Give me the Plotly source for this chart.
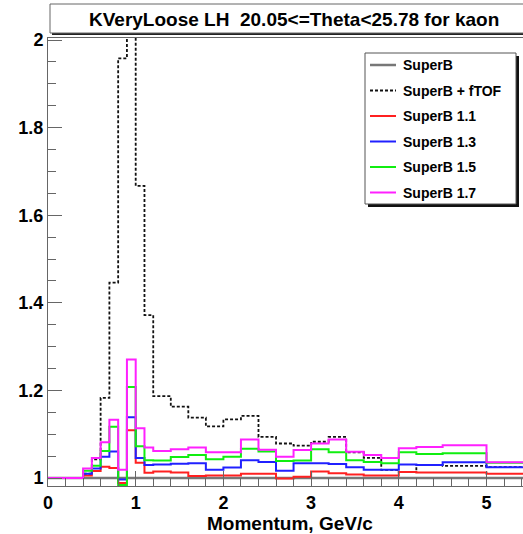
import plotly.graph_objects as go

# Momentum bin edges (GeV/c)
edges = [0.0, 0.2, 0.4, 0.5, 0.6, 0.7, 0.8, 0.9, 1.0, 1.1, 1.2, 1.4, 1.6, 1.8,
         2.0, 2.2, 2.4, 2.6, 2.8, 3.0, 3.2, 3.4, 3.6, 3.8, 4.0, 4.2, 4.5, 5.0, 5.5]

# Efficiency ratios per bin, one list per configuration
superb = [1.0, 1.0, 1.0, 1.0, 1.0, 1.0, 1.0, 1.0, 1.0, 1.0, 1.0, 1.0, 1.0, 1.0,
          1.0, 1.0, 1.0, 1.0, 1.0, 1.0, 1.0, 1.0, 1.0, 1.0, 1.0, 1.0, 1.0, 1.0]
superb_ftof = [1.0, 1.0, 1.010, 1.043, 1.183, 1.446, 1.958, 2.150, 1.667, 1.372,
               1.187, 1.163, 1.138, 1.118, 1.134, 1.142, 1.094, 1.079, 1.074, 1.083,
               1.094, 1.059, 1.046, 1.019, 1.014, 1.030, 1.028, 1.025]
superb_11 = [1.0, 1.0, 1.006, 1.016, 1.026, 1.023, 0.989, 1.109, 1.035, 1.012,
             1.015, 1.013, 1.005, 1.006, 1.006, 1.010, 1.010, 0.999, 1.003, 1.015,
             1.011, 1.008, 1.006, 1.006, 1.014, 1.013, 1.013, 1.010]
superb_13 = [1.0, 1.0, 1.010, 1.022, 1.049, 1.061, 0.997, 1.139, 1.046, 1.030,
             1.031, 1.033, 1.034, 1.019, 1.024, 1.041, 1.037, 1.017, 1.034, 1.034,
             1.032, 1.025, 1.019, 1.019, 1.031, 1.030, 1.036, 1.025]
superb_15 = [1.0, 1.0, 1.017, 1.028, 1.062, 1.117, 0.984, 1.208, 1.073, 1.041,
             1.040, 1.048, 1.053, 1.043, 1.049, 1.067, 1.061, 1.039, 1.040, 1.066,
             1.059, 1.041, 1.037, 1.034, 1.059, 1.055, 1.057, 1.035]
superb_17 = [1.0, 1.0, 1.022, 1.046, 1.082, 1.133, 1.019, 1.271, 1.114, 1.070,
             1.062, 1.066, 1.070, 1.059, 1.059, 1.088, 1.065, 1.049, 1.064, 1.079,
             1.088, 1.060, 1.053, 1.046, 1.068, 1.071, 1.075, 1.036]

labels = ["SuperB", "SuperB + fTOF", "SuperB 1.1", "SuperB 1.3", "SuperB 1.5", "SuperB 1.7"]
title_text = "KVeryLoose LH&nbsp; 20.05&lt;=Theta&lt;25.78 for kaon"
x_title = "Momentum, GeV/c"

series = [superb, superb_ftof, superb_11, superb_13, superb_15, superb_17]
styles = [
    dict(color="#777777", width=2.5, dash="solid"),
    dict(color="#111111", width=1.8, dash="3px,2px"),
    dict(color="#ff2020", width=2, dash="solid"),
    dict(color="#2020ff", width=2, dash="solid"),
    dict(color="#10ee10", width=2, dash="solid"),
    dict(color="#ff20ff", width=2, dash="solid"),
]

W, H = 523, 534
ML, MR, MT, MB = 48, 0, 38, 48
X_PER_GEV = 87.7
x_max = (W - ML - MR) / X_PER_GEV


def px_x(px):
    return (px - ML) / (W - ML - MR)


def px_y(py):
    return (H - MB - py) / (H - MT - MB)


font_family = "Liberation Sans, Arial, Helvetica, sans-serif"

fig = go.Figure()
for vals, st, name in zip(series, styles, labels):
    fig.add_trace(go.Scatter(
        x=edges, y=vals + [vals[-1]], mode="lines", name=name,
        line=dict(shape="hv", color=st["color"], width=st["width"], dash=st["dash"]),
        showlegend=False, hoverinfo="skip",
    ))

shapes = []
annotations = []

# title box with shadow
shapes.append(dict(type="rect", xref="paper", yref="paper",
                   x0=px_x(52), x1=px_x(540), y0=px_y(35), y1=px_y(6),
                   fillcolor="#222222", line=dict(width=0), layer="above"))
shapes.append(dict(type="rect", xref="paper", yref="paper",
                   x0=px_x(50), x1=px_x(540), y0=px_y(33), y1=px_y(4),
                   fillcolor="white", line=dict(color="#666666", width=1), layer="above"))
annotations.append(dict(text=title_text, xref="paper", yref="paper",
                        x=px_x(294), y=px_y(19), xanchor="center", yanchor="middle",
                        showarrow=False,
                        font=dict(family=font_family, size=19, color="black", weight="bold")))

# legend box with shadow
shapes.append(dict(type="rect", xref="paper", yref="paper",
                   x0=px_x(368), x1=px_x(519), y0=px_y(207), y1=px_y(56),
                   fillcolor="#111111", line=dict(width=0), layer="above"))
shapes.append(dict(type="rect", xref="paper", yref="paper",
                   x0=px_x(365), x1=px_x(516), y0=px_y(204), y1=px_y(53),
                   fillcolor="white", line=dict(color="#555555", width=1), layer="above"))
rows = [65, 90.5, 116, 141.5, 167, 192.5]
for ry, st, name in zip(rows, styles, labels):
    shapes.append(dict(type="line", xref="paper", yref="paper",
                       x0=px_x(370), x1=px_x(396), y0=px_y(ry), y1=px_y(ry),
                       line=dict(color=st["color"], width=st["width"] if st["dash"] == "solid" else 1.8,
                                 dash=st["dash"]),
                       layer="above"))
    annotations.append(dict(text=name, xref="paper", yref="paper",
                            x=px_x(401), y=px_y(ry), xanchor="left", yanchor="middle",
                            showarrow=False,
                            font=dict(family=font_family, size=14, color="black", weight="bold")))

# x-axis title
annotations.append(dict(text=x_title, xref="paper", yref="paper",
                        x=px_x(290), y=px_y(523), xanchor="center", yanchor="middle",
                        showarrow=False,
                        font=dict(family=font_family, size=19, color="black", weight="bold")))

axis_color = "#666666"
fig.update_layout(
    width=W, height=H,
    margin=dict(l=ML, r=MR, t=MT, b=MB, pad=0),
    paper_bgcolor="white", plot_bgcolor="white",
    font=dict(family=font_family, color="black"),
    shapes=shapes, annotations=annotations,
    xaxis=dict(range=[0, x_max], showgrid=False, zeroline=False,
               showline=True, linecolor=axis_color, linewidth=1, mirror=True,
               ticks="inside", ticklen=15, tickcolor=axis_color, tickwidth=1,
               tick0=0, dtick=1,
               minor=dict(ticks="inside", ticklen=8, dtick=0.2, tick0=0,
                          tickcolor=axis_color, tickwidth=1, showgrid=False),
               tickfont=dict(family=font_family, size=18, color="black", weight="bold")),
    yaxis=dict(range=[0.982, 2.0046], showgrid=False, zeroline=False,
               showline=True, linecolor=axis_color, linewidth=1, mirror=False,
               ticks="inside", ticklen=14, tickcolor=axis_color, tickwidth=1,
               tick0=1, dtick=0.2,
               minor=dict(ticks="inside", ticklen=8, dtick=0.05, tick0=1,
                          tickcolor=axis_color, tickwidth=1, showgrid=False),
               tickfont=dict(family=font_family, size=18, color="black", weight="bold")),
)

fig.write_html("out.html")
